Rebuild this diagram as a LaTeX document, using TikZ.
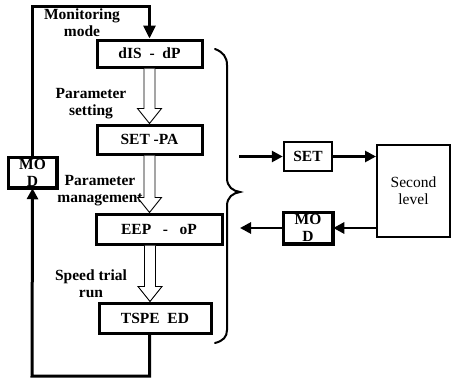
\documentclass[tikz,border=0pt]{standalone}
\usepackage{fontspec}
\setmainfont{Liberation Serif}
\usetikzlibrary{arrows.meta,calc}
\begin{document}
\begin{tikzpicture}[x=1pt,y=-1pt,
  lbl/.style={font=\bfseries\fontsize{15.5}{17}\selectfont, align=center, inner sep=0pt},
  boxa/.style={draw, line width=3pt, inner sep=0pt, font=\bfseries\fontsize{15.5}{17}\selectfont},
  boxb/.style={draw, line width=2.5pt, inner sep=0pt, font=\bfseries\fontsize{15.5}{17}\selectfont},
  loopline/.style={line width=3pt},
  arr/.style={line width=2.8pt, -{Triangle[length=11pt,width=11pt]}},
  hollow/.style={line width=0.9pt, fill=white},
  bracestyle/.style={line width=2pt, line cap=round}]
\useasboundingbox (0,0) rectangle (451,378);
\newcommand\hollowarr[2]{\draw[hollow] let \p1=#1, \p2=#2 in
  (\x1-5.5pt,\y1) -- (\x1-5.5pt,\y2+15pt) -- (\x1-12pt,\y2+15pt) -- (\x1,\y2)
  -- (\x1+12pt,\y2+15pt) -- (\x1+5.5pt,\y2+15pt) -- (\x1+5.5pt,\y1);}

% main boxes
\node[boxa, minimum width=105pt, minimum height=27pt] (dis) at (149.5,53.5) {dIS\ \ -\ \ dP};
\node[boxa, minimum width=105pt, minimum height=29pt] (setpa) at (149.5,139.5) {SET -PA};
\node[boxa, minimum width=126pt, minimum height=30pt] (eep) at (159,229) {EEP\ \ \ -\ \ \ oP};
\node[boxa, minimum width=112pt, minimum height=30pt] (tspe) at (155,318) {TSPE\ \ ED};

% left MOD box
\node[boxb, minimum width=47pt, minimum height=29pt] (modl) at (32.5,172.5) {};
\begin{scope}
\clip (modl.north west) rectangle (modl.south east);
\node[lbl, anchor=north] (modltxt) at ($(modl.north)+(0,2)$) {MO\\D};
\end{scope}
\draw[line width=2.5pt] (modl.north west) rectangle (modl.south east);

% labels
\node[lbl] (lmon) at (82,23) {Monitoring\\mode};
\node[lbl] (lset) at (91,104) {Parameter\\setting};
\node[lbl] (lman) at (100,191) {Parameter\\management};
\node[lbl] (lspd) at (91,284) {Speed trial\\run};

% hollow arrows
\hollowarr{(dis.south)}{(setpa.north)}
\hollowarr{(setpa.south)}{(setpa.south |- eep.north)}
\coordinate (hx) at (150,0);
\hollowarr{(hx |- eep.south)}{(hx |- tspe.north)}

% loop
\coordinate (tl) at (32,6);
\coordinate (bl) at (32,376);
\draw[loopline, -{Triangle[length=13pt,width=12pt]}] (modl.north) -- (modl.north |- tl) -| (dis.north);
\draw[loopline, -{Triangle[length=11pt,width=11pt]}] (tspe.south -| dis.north) -- (bl -| dis.north) -- (bl) -- (modl.south);

% brace
\coordinate (btip) at (240,192);
\draw[bracestyle] (215,49) .. controls (223,52) and (227,57) .. (227,65) -- (227,178)
  .. controls (227,187) and (233,191) .. (btip)
  .. controls (233,193) and (227,197) .. (227,206) -- (227,330)
  .. controls (227,337) and (223,341) .. (215,343);

% right side
\node[boxb, minimum width=48pt, minimum height=29pt] (setr) at (308,156.5) {SET};
\node[boxb, minimum width=48pt, minimum height=30pt] (modr) at (308,228) {};
\begin{scope}
\clip (modr.north west) rectangle (modr.south east);
\node[lbl, anchor=north] (modrtxt) at ($(modr.north)+(0,2)$) {MO\\D};
\end{scope}
\draw[line width=2.5pt] (modr.north west) rectangle (modr.south east);
\node[draw, line width=2pt, minimum width=73pt, minimum height=92pt, inner sep=0pt,
  align=center, font=\fontsize{15.5}{17}\selectfont] (second) at (413.5,191) {Second\\level};

\coordinate (sin) at (239,156.5);
\coordinate (mout) at (240,228);
\draw[arr] (sin) -- (setr.west);
\draw[arr] (setr.east) -- (second.west |- setr.east);
\draw[arr] (second.west |- modr.east) -- (modr.east);
\draw[arr] (modr.west) -- (mout);
\end{tikzpicture}
\end{document}
